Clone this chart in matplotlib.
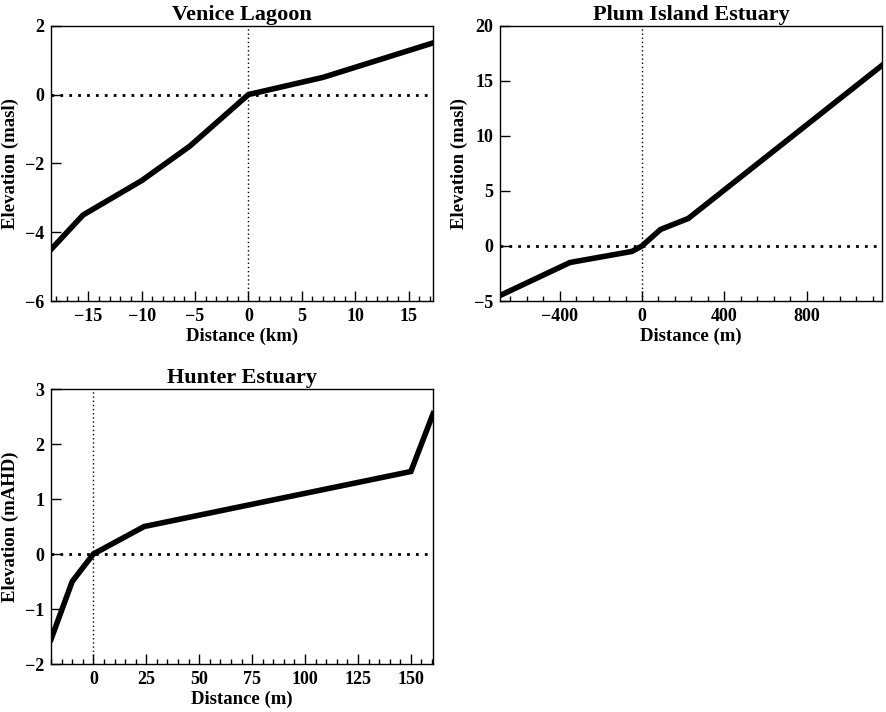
import matplotlib
matplotlib.use("Agg")
import matplotlib.pyplot as plt
from matplotlib.ticker import MultipleLocator

plt.rcParams['font.family'] = 'Liberation Serif'
plt.rcParams['font.weight'] = 'bold'
plt.rcParams['axes.labelweight'] = 'bold'
plt.rcParams['axes.titleweight'] = 'bold'

# profile data
venice_x = [-18.5, -15.5, -10, -5.5, 0, 7, 17.3]
venice_y = [-4.5, -3.5, -2.5, -1.5, 0, 0.5, 1.5]

plum_x = [-690, -350, -50, 0, 90, 225, 1166]
plum_y = [-4.5, -1.5, -0.5, 0, 1.5, 2.5, 16.4]

hunter_x = [-20, -10, 0, 24, 150, 160.5]
hunter_y = [-1.55, -0.5, 0, 0.5, 1.5, 2.55]


def profile(ax, x, y, title, xlabel, ylabel, xlim, ylim, xmaj, xmin, yticks):
    ax.plot(x, y, color='black', lw=4, solid_joinstyle='miter', zorder=3)
    ax.axhline(0, color='black', lw=2, ls=(0, (1, 2.2)), zorder=2)
    ax.axvline(0, color='black', lw=1, ls=(0, (1, 2)), zorder=2)
    ax.set_xlim(xlim)
    ax.set_ylim(ylim)
    ax.xaxis.set_major_locator(MultipleLocator(xmaj))
    ax.xaxis.set_minor_locator(MultipleLocator(xmin))
    ax.set_yticks(yticks)
    ax.tick_params(which='both', direction='in', top=False, right=False, labelsize=13, pad=5)
    ax.tick_params(which='major', length=7, width=1)
    ax.tick_params(which='minor', length=3.5, width=1)
    for s in ax.spines.values():
        s.set_linewidth(1)
    ax.set_title(title, fontsize=16, pad=4)
    ax.set_xlabel(xlabel, fontsize=13.5, labelpad=2)
    ax.set_ylabel(ylabel, fontsize=13.5, labelpad=4)


fig = plt.figure(figsize=(8.86, 7.12), dpi=100)
ax1 = fig.add_axes([0.0576, 0.5772, 0.4312, 0.3867])
ax2 = fig.add_axes([0.5643, 0.5772, 0.4312, 0.3867])
ax3 = fig.add_axes([0.0576, 0.0674, 0.4312, 0.3862])

profile(ax1, venice_x, venice_y, 'Venice Lagoon', 'Distance (km)', 'Elevation (masl)',
        (-18.5, 17.3), (-6, 2), 5, 1, [-6, -4, -2, 0, 2])
profile(ax2, plum_x, plum_y, 'Plum Island Estuary', 'Distance (m)', 'Elevation (masl)',
        (-690, 1166), (-5, 20), 400, 80, [-5, 0, 5, 10, 15, 20])
profile(ax3, hunter_x, hunter_y, 'Hunter Estuary', 'Distance (m)', 'Elevation (mAHD)',
        (-20, 160.5), (-2, 3), 25, 5, [-2, -1, 0, 1, 2, 3])

fig.savefig('out.png', dpi=100)
